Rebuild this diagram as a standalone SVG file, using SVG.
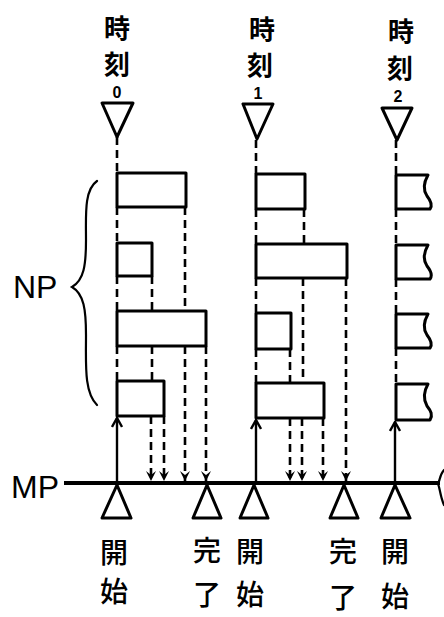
<svg xmlns="http://www.w3.org/2000/svg" width="444" height="617" viewBox="0 0 444 617">
  <defs>
    <style>
      .box { fill: #fff; stroke: #000; stroke-width: 3; stroke-linejoin: round; }
      .tri { fill: #fff; stroke: #000; stroke-width: 3; stroke-linejoin: round; }
      .dash { fill: none; stroke: #000; stroke-width: 2.6; stroke-dasharray: 8 5; }
      .solid { fill: none; stroke: #000; stroke-width: 2.4; }
      .axis { fill: none; stroke: #000; stroke-width: 4; }
      .brace { fill: none; stroke: #000; stroke-width: 2.2; stroke-linecap: round; }
      .cjk { font-family: "Noto Sans CJK JP", "Noto Sans CJK SC", sans-serif; font-weight: 700; font-size: 26px; text-anchor: middle; dominant-baseline: central; fill: #000; }
      .cjk-b { font-family: "Noto Sans CJK JP", "Noto Sans CJK SC", sans-serif; font-weight: 500; font-size: 28px; text-anchor: middle; dominant-baseline: central; fill: #000; }
      .num { font-family: "Liberation Sans", sans-serif; font-weight: 700; font-size: 16px; text-anchor: middle; dominant-baseline: central; fill: #000; }
      .lbl { font-family: "Liberation Sans", sans-serif; font-size: 32px; fill: #000; }
    </style>
    <!-- filled barb pointing down, tip at the line end -->
    <marker id="down" viewBox="-6 -10 12 11" refX="0" refY="0" markerWidth="12" markerHeight="11" markerUnits="userSpaceOnUse">
      <path d="M-5,-10 L0,0 L5,-10 L0,-6 Z" fill="#000"/>
    </marker>
    <!-- open barb pointing up -->
    <marker id="up" viewBox="-6 -1 12 11" refX="0" refY="0" markerWidth="12" markerHeight="11" markerUnits="userSpaceOnUse">
      <path d="M-5,9 L0,0 L5,9" fill="none" stroke="#000" stroke-width="2.4"/>
    </marker>
  </defs>

  <!-- axis labels -->
  <text class="lbl" x="13" y="298">NP</text>
  <path class="brace" d="M97,181 C84,190 86,215 86,240 C86,265 84,280 72,287 C84,294 86,310 86,335 C86,365 84,392 97,405"/>
  <text class="lbl" x="11" y="498">MP</text>

  <!-- main processor time line -->
  <line class="axis" x1="64" y1="483" x2="440" y2="483"/>
  <path class="brace" d="M444,470 C440,474 440,480 438,484 C440,488 440,496 444,505"/>

  <!-- connectors -->
  <g id="connectors">
    <!-- time 0 -->
    <line class="dash" x1="117" y1="137" x2="117" y2="173"/>
    <line class="dash" x1="117" y1="207" x2="117" y2="243"/>
    <line class="dash" x1="117" y1="276" x2="117" y2="311"/>
    <line class="dash" x1="117" y1="346" x2="117" y2="381"/>
    <line class="dash" x1="185" y1="207" x2="185" y2="311"/>
    <line class="dash" x1="152" y1="276" x2="152" y2="311"/>
    <line class="dash" x1="152" y1="346" x2="152" y2="381"/>
    <line class="dash" x1="151" y1="416" x2="151" y2="481" marker-end="url(#down)"/>
    <line class="dash" x1="164" y1="416" x2="164" y2="481" marker-end="url(#down)"/>
    <line class="dash" x1="185" y1="346" x2="185" y2="481" marker-end="url(#down)"/>
    <line class="dash" x1="206" y1="346" x2="206" y2="481" marker-end="url(#down)"/>
    <line class="solid" x1="117" y1="483" x2="117" y2="418" marker-end="url(#up)"/>

    <!-- time 1 -->
    <line class="dash" x1="256" y1="140" x2="256" y2="174"/>
    <line class="dash" x1="256" y1="209" x2="256" y2="244"/>
    <line class="dash" x1="256" y1="278" x2="256" y2="313"/>
    <line class="dash" x1="256" y1="349" x2="256" y2="383"/>
    <line class="dash" x1="304" y1="209" x2="304" y2="244"/>
    <line class="dash" x1="303" y1="278" x2="303" y2="383"/>
    <line class="dash" x1="290" y1="349" x2="290" y2="383"/>
    <line class="dash" x1="290" y1="418" x2="290" y2="481" marker-end="url(#down)"/>
    <line class="dash" x1="302" y1="418" x2="302" y2="481" marker-end="url(#down)"/>
    <line class="dash" x1="323" y1="418" x2="323" y2="481" marker-end="url(#down)"/>
    <line class="dash" x1="346" y1="278" x2="346" y2="481" marker-end="url(#down)"/>
    <line class="solid" x1="256" y1="483" x2="256" y2="420" marker-end="url(#up)"/>

    <!-- time 2 -->
    <line class="dash" x1="396" y1="140" x2="396" y2="175"/>
    <line class="dash" x1="396" y1="209" x2="396" y2="245"/>
    <line class="dash" x1="396" y1="279" x2="396" y2="314"/>
    <line class="dash" x1="396" y1="348" x2="396" y2="384"/>
    <line class="solid" x1="395" y1="483" x2="395" y2="422" marker-end="url(#up)"/>
  </g>

  <!-- time markers -->
  <g id="time0">
    <text class="cjk" x="117" y="26">時</text>
    <text class="cjk" x="117" y="62">刻</text>
    <text class="num" x="117" y="92">0</text>
    <path class="tri" d="M102,103 L133,103 L117,137 Z"/>
  </g>
  <g id="time1">
    <text class="cjk" x="262" y="27">時</text>
    <text class="cjk" x="260" y="63">刻</text>
    <text class="num" x="258" y="93">1</text>
    <path class="tri" d="M243,104 L273,104 L257,139 Z"/>
  </g>
  <g id="time2">
    <text class="cjk" x="401" y="29">時</text>
    <text class="cjk" x="400" y="66">刻</text>
    <text class="num" x="398" y="96">2</text>
    <path class="tri" d="M382,108 L412,108 L397,140 Z"/>
  </g>

  <!-- node processor tasks, time 0 -->
  <g id="np0-1"><rect class="box" x="117" y="173" width="69" height="34"/></g>
  <g id="np0-2"><rect class="box" x="117" y="243" width="35" height="33"/></g>
  <g id="np0-3"><rect class="box" x="117" y="311" width="89" height="35"/></g>
  <g id="np0-4"><rect class="box" x="117" y="381" width="47" height="35"/></g>

  <!-- node processor tasks, time 1 -->
  <g id="np1-1"><rect class="box" x="256" y="174" width="49" height="35"/></g>
  <g id="np1-2"><rect class="box" x="256" y="244" width="91" height="34"/></g>
  <g id="np1-3"><rect class="box" x="256" y="313" width="35" height="36"/></g>
  <g id="np1-4"><rect class="box" x="256" y="383" width="68" height="35"/></g>

  <!-- node processor tasks, time 2 (continuing past the edge) -->
  <g id="np2-1"><path class="box" d="M396,175 L428,175 C424,182 423,190 427,196 C431,201 433,205 430,209 L396,209 Z"/></g>
  <g id="np2-2"><path class="box" d="M396,245 L428,245 C424,252 423,260 427,266 C431,271 433,275 430,279 L396,279 Z"/></g>
  <g id="np2-3"><path class="box" d="M396,314 L428,314 C424,321 423,329 427,335 C431,340 433,344 430,348 L396,348 Z"/></g>
  <g id="np2-4"><path class="box" d="M396,384 L428,384 C424,391 423,399 427,406 C431,411 433,415 430,420 L396,420 Z"/></g>

  <!-- main processor events -->
  <g id="start0">
    <path class="tri" d="M117,485 L131,518 L102,518 Z"/>
    <text class="cjk-b" x="114" y="551">開</text>
    <text class="cjk-b" x="114" y="590">始</text>
  </g>
  <g id="end0">
    <path class="tri" d="M207,485 L221,518 L193,518 Z"/>
    <text class="cjk-b" x="207" y="549">完</text>
    <text class="cjk-b" x="207" y="593">了</text>
  </g>
  <g id="start1">
    <path class="tri" d="M254,485 L268,518 L240,518 Z"/>
    <text class="cjk-b" x="250" y="550">開</text>
    <text class="cjk-b" x="250" y="593">始</text>
  </g>
  <g id="end1">
    <path class="tri" d="M344,485 L358,518 L330,518 Z"/>
    <text class="cjk-b" x="343" y="550">完</text>
    <text class="cjk-b" x="343" y="596">了</text>
  </g>
  <g id="start2">
    <path class="tri" d="M395,485 L410,518 L381,518 Z"/>
    <text class="cjk-b" x="395" y="550">開</text>
    <text class="cjk-b" x="395" y="595">始</text>
  </g>
</svg>
